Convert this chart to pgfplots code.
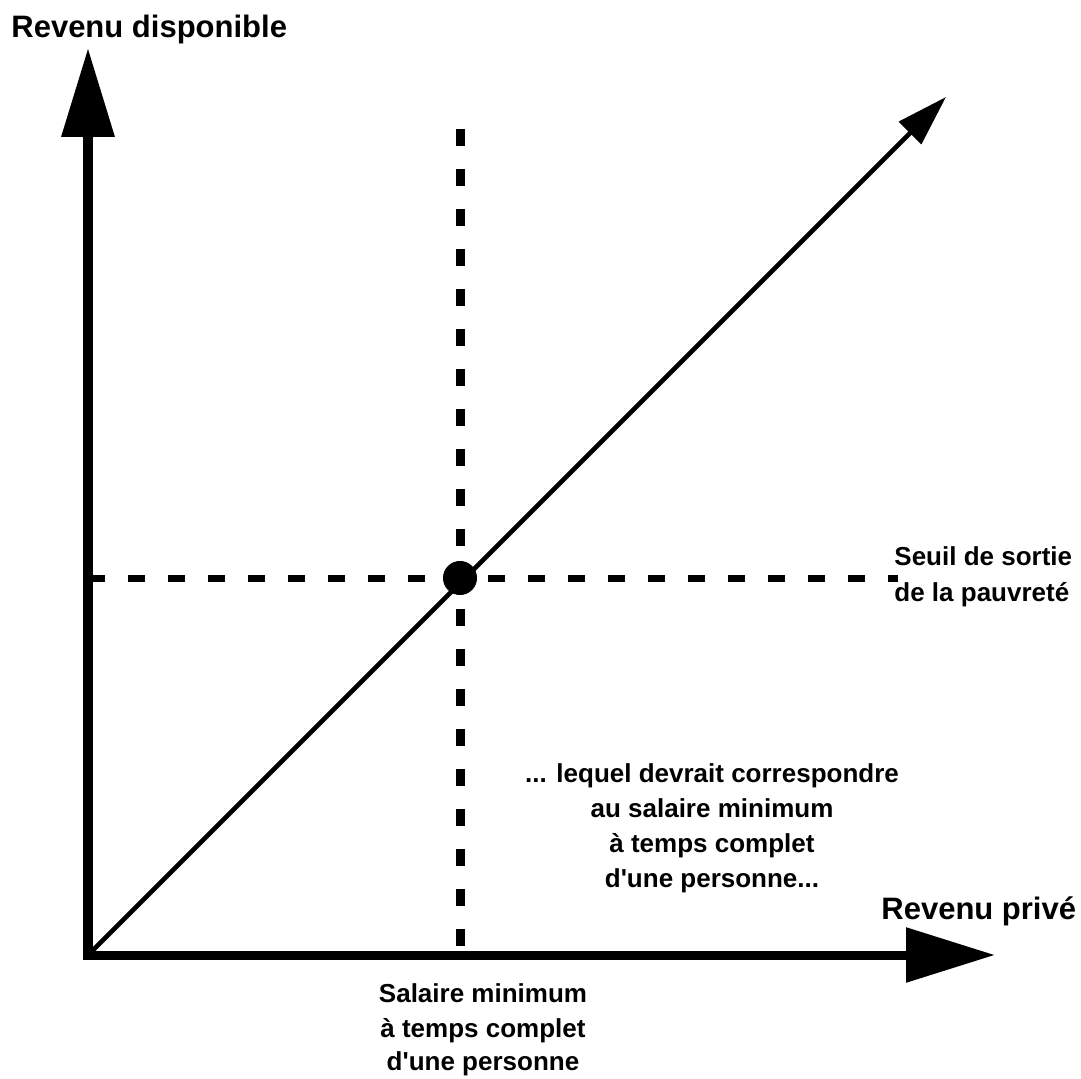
\documentclass[border=0pt]{standalone}
\usepackage{fontspec}
\newfontfamily\lab{Liberation Sans}
\usepackage{pgfplots}
\pgfplotsset{compat=1.18}
\usetikzlibrary{arrows.meta}
\tikzset{
    lbl/.style={inner sep=0pt, font=\lab\bfseries\fontsize{13}{13}\selectfont},
    big/.style={inner sep=0pt, font=\lab\bfseries\fontsize{15.5}{15.5}\selectfont},
}

\begin{document}
\begin{tikzpicture}
\begin{axis}[
    at={(0,0)}, anchor=south west,
    width=540.5pt, height=539.5pt,
    scale only axis,
    xmin=0, xmax=1081,
    ymin=0, ymax=1079,
    y dir=reverse,
    hide axis,
    clip=false,
    ]
    % dashed guides
    \addplot[black, line width=3.5pt, dash pattern=on 8.5pt off 11.5pt, line cap=butt]
        coordinates {(88,578) (898,578)};
    \addplot[black, line width=4.5pt, dash pattern=on 8.5pt off 11.5pt, line cap=butt]
        coordinates {(460,129) (460,950)};

    % axes
    \addplot[black, line width=5pt, -{Triangle[length=44.5pt,width=25.5pt]}]
        coordinates {(88,959) (88,48)};
    \addplot[black, line width=4.5pt, -{Triangle[length=44.5pt,width=26.5pt]}]
        coordinates {(83,955) (995,955)};

    % 45 degree line
    \addplot[black, line width=2.3pt, -{Triangle[length=25.5pt,width=15.5pt]}]
        coordinates {(88,955) (946,97)};

    % intersection
    \addplot[only marks, mark=*, mark size=8.3pt, black] coordinates {(460,578)};

    \node[big, anchor=base west] at (axis cs:11,38) {Revenu disponible};
    \node[big, anchor=base west] at (axis cs:881,919) {Revenu privé};

    \node[lbl, anchor=base west] at (axis cs:894,566) {Seuil de sortie};
    \node[lbl, anchor=base west] at (axis cs:894,602) {de la pauvreté};

    \node[lbl, anchor=base] at (axis cs:712,782) {... lequel devrait correspondre};
    \node[lbl, anchor=base] at (axis cs:712,817) {au salaire minimum};
    \node[lbl, anchor=base] at (axis cs:712,852) {à temps complet};
    \node[lbl, anchor=base] at (axis cs:712,887) {d'une personne...};

    \node[lbl, anchor=base] at (axis cs:483,1002) {Salaire minimum};
    \node[lbl, anchor=base] at (axis cs:483,1037) {à temps complet};
    \node[lbl, anchor=base] at (axis cs:483,1070) {d'une personne};
\end{axis}
\pgfresetboundingbox
\path (0,0) rectangle (540.5pt,539.5pt);
\end{tikzpicture}
\end{document}
